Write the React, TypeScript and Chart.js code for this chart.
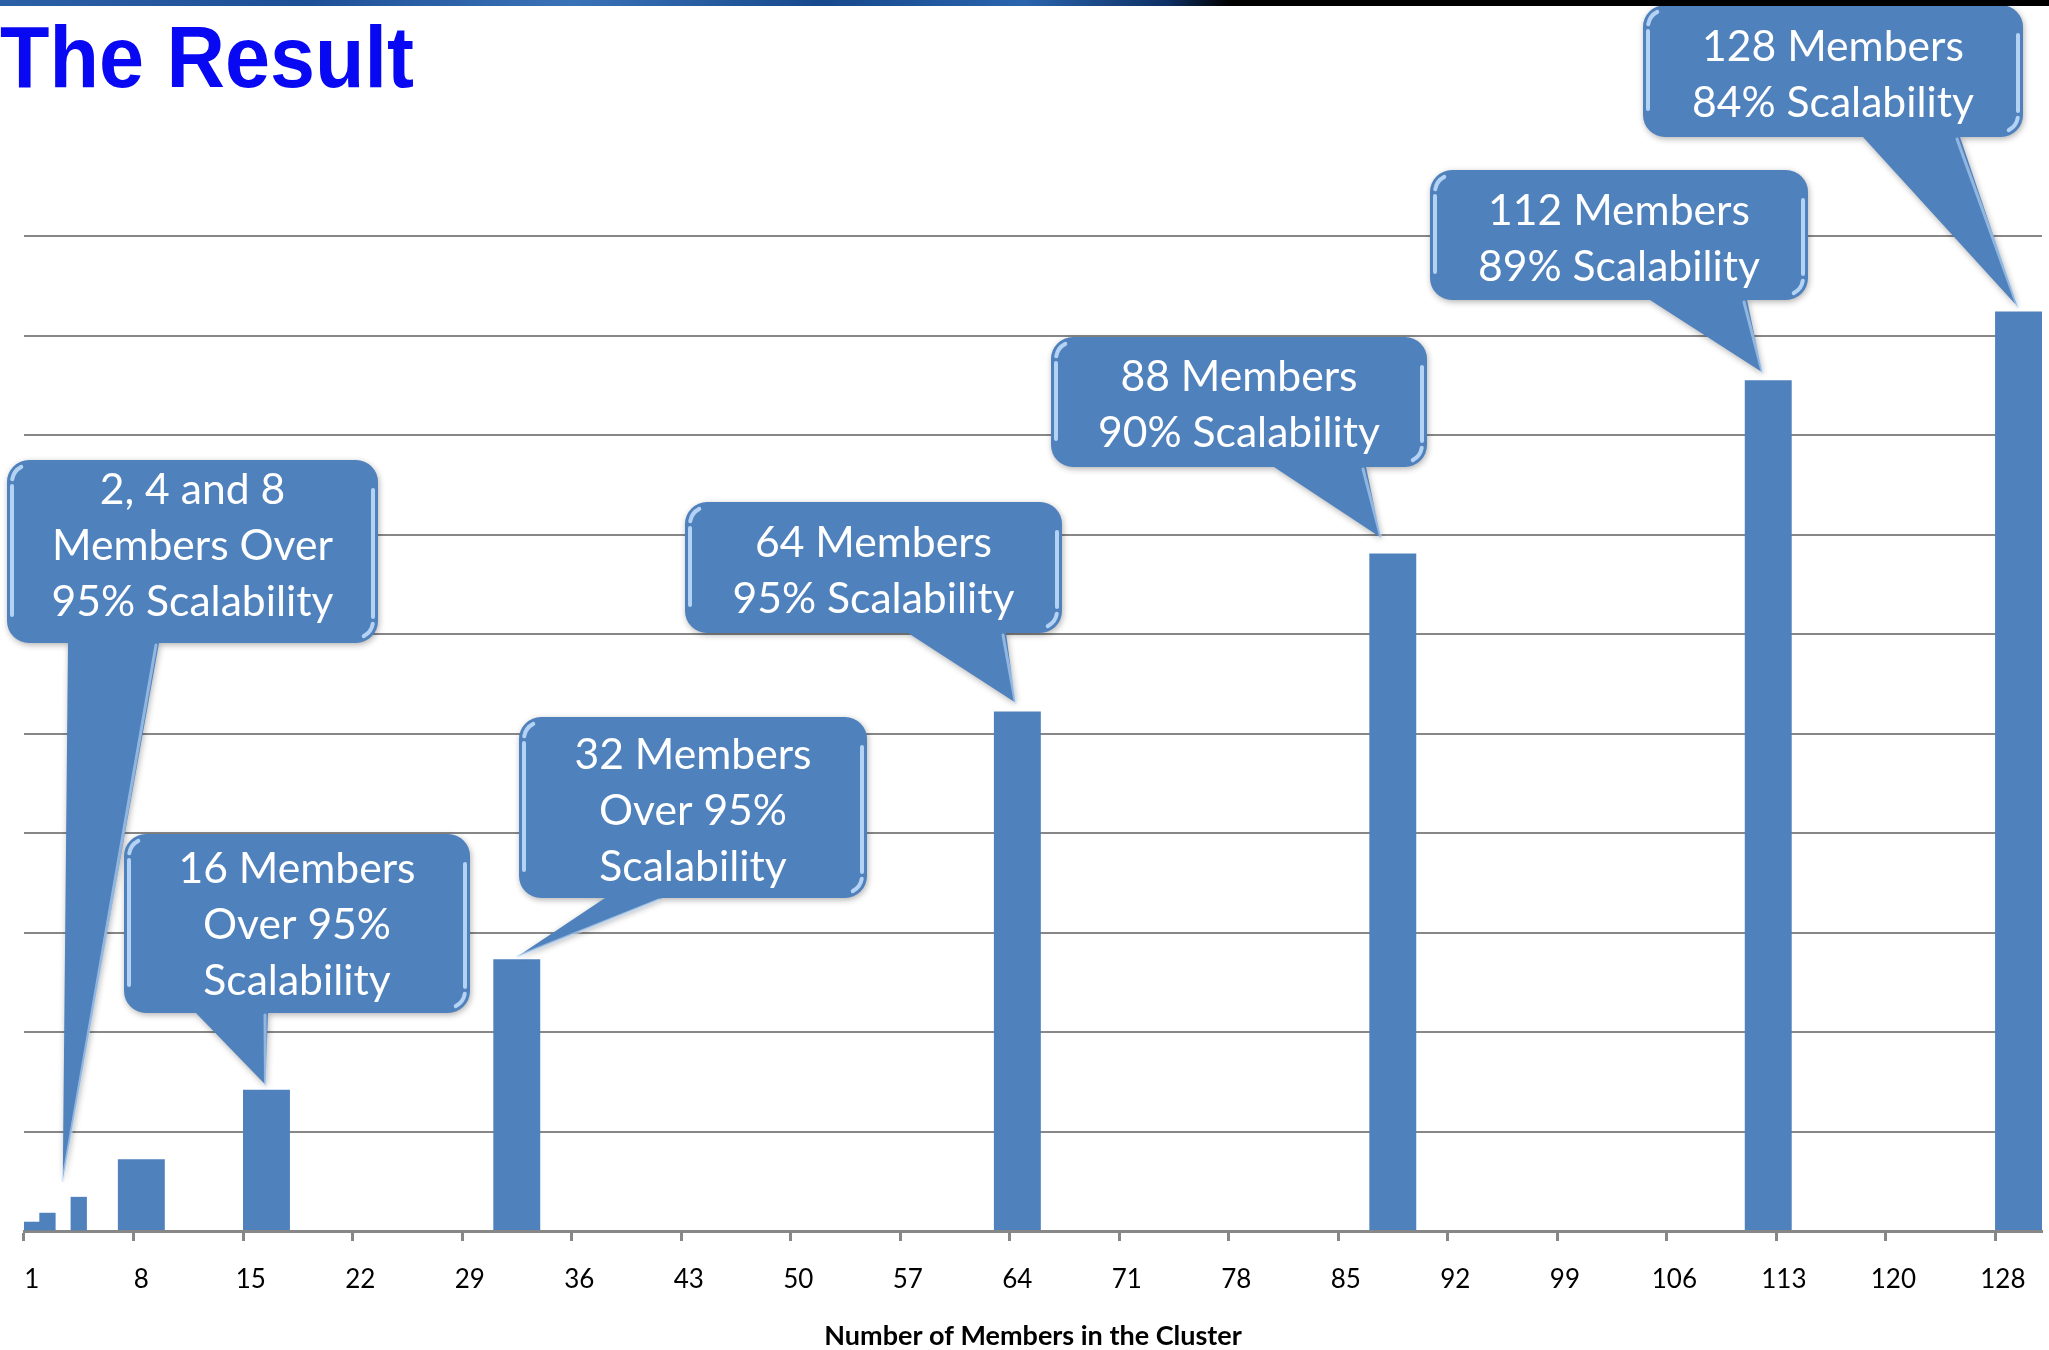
import React, { useEffect, useRef } from 'react';
import { Chart, registerables } from 'chart.js';

Chart.register(...registerables);

// ---------- data ----------
const pageTitle = 'The Result';
const xAxisTitle = 'Number of Members in the Cluster';
const memberCounts = [1, 2, 4, 8, 16, 32, 64, 88, 112, 128];
const relativeThroughput = [0.09, 0.18, 0.34, 0.72, 1.42, 2.73, 5.22, 6.81, 8.55, 9.24];
const slotLabels = Array.from({ length: 129 }, (_, i) => String(i + 1));
const xTickLabels = ['1', '8', '15', '22', '29', '36', '43', '50', '57', '64', '71', '78', '85', '92', '99', '106', '113', '120', '128'];
const tickEvery = 7;
const yMax = 10;

const calloutTargets = [4, 16, 32, 64, 88, 112, 128];
const calloutTexts = [
  ['2, 4 and 8', 'Members Over', '95% Scalability'],
  ['16 Members', 'Over 95%', 'Scalability'],
  ['32 Members', 'Over 95%', 'Scalability'],
  ['64 Members', '95% Scalability'],
  ['88 Members', '90% Scalability'],
  ['112 Members', '89% Scalability'],
  ['128 Members', '84% Scalability'],
];

// ---------- layout / style (not data) ----------
const W = 2049;
const H = 1350;
const BAR = '#4F81BD';
const GRID = '#878787';
const calloutLayout = [
  { box: [7, 460, 378, 643], base: [68, 159], dx: -16, dy: -17, ty: -5 },
  { box: [124, 834, 470, 1013], base: [196, 268], dx: -1, dy: -5, ty: 2 },
  { box: [519, 717, 867, 898], base: [605, 662], dx: 1, dy: -3, ty: 4 },
  { box: [685, 502, 1062, 633], base: [908, 1006], dx: -2, dy: -9, ty: 4 },
  { box: [1051, 337, 1427, 467], base: [1274, 1366], dx: -12, dy: -16, ty: 3 },
  { box: [1430, 170, 1808, 300], base: [1650, 1747], dx: -6, dy: -8, ty: 4 },
  { box: [1643, 5, 2023, 137], base: [1863, 1960], dx: -1, dy: -5, ty: 4 },
];

function drawCallout(ctx: CanvasRenderingContext2D, lines: string[], lay: any, tipX: number, tipY: number) {
  const [x1, y1, x2, y2] = lay.box;
  const r = 22;
  ctx.save();
  ctx.beginPath();
  ctx.moveTo(x1 + r, y1);
  ctx.lineTo(x2 - r, y1);
  ctx.arcTo(x2, y1, x2, y1 + r, r);
  ctx.lineTo(x2, y2 - r);
  ctx.arcTo(x2, y2, x2 - r, y2, r);
  ctx.lineTo(lay.base[1], y2);
  ctx.lineTo(tipX, tipY);
  ctx.lineTo(lay.base[0], y2);
  ctx.lineTo(x1 + r, y2);
  ctx.arcTo(x1, y2, x1, y2 - r, r);
  ctx.lineTo(x1, y1 + r);
  ctx.arcTo(x1, y1, x1 + r, y1, r);
  ctx.closePath();
  ctx.shadowColor = 'rgba(0,0,0,0.30)';
  ctx.shadowBlur = 6;
  ctx.shadowOffsetX = 1;
  ctx.shadowOffsetY = 2;
  ctx.fillStyle = BAR;
  ctx.fill();
  ctx.shadowColor = 'rgba(0,0,0,0)';

  // bevel highlights
  ctx.lineCap = 'round';
  ctx.strokeStyle = 'rgba(190,218,250,0.9)';
  ctx.lineWidth = 4;
  ctx.beginPath();
  ctx.moveTo(x1 + 5, y1 + r + 4);
  ctx.lineTo(x1 + 5, y2 - r - 6);
  ctx.stroke();
  ctx.beginPath();
  ctx.arc(x1 + r, y1 + r, r - 5, Math.PI * 1.05, Math.PI * 1.35);
  ctx.stroke();
  ctx.beginPath();
  ctx.moveTo(x2 - 5, y1 + r + 8);
  ctx.lineTo(x2 - 5, y2 - r - 4);
  ctx.stroke();
  ctx.beginPath();
  ctx.arc(x2 - r, y2 - r, r - 5, Math.PI * 0.05, Math.PI * 0.35);
  ctx.stroke();
  ctx.strokeStyle = 'rgba(200,225,252,0.55)';
  ctx.lineWidth = 3;
  ctx.beginPath();
  ctx.moveTo(lay.base[1] - 3, y2 + 2);
  ctx.lineTo(tipX, tipY);
  ctx.stroke();

  // text
  ctx.fillStyle = '#ffffff';
  ctx.font = '44px Lato';
  const ref = ctx.measureText('95% Scalability').width;
  const size = (44 * 282) / ref;
  ctx.font = `${size}px Lato`;
  ctx.textAlign = 'center';
  ctx.textBaseline = 'middle';
  const cx = (x1 + x2) / 2;
  const cy = (y1 + y2) / 2 + lay.ty;
  const lh = 56;
  lines.forEach((t, i) => {
    ctx.fillText(t, cx, cy + (i - (lines.length - 1) / 2) * lh);
  });
  ctx.restore();
}

const calloutPlugin = {
  id: 'callouts',
  afterDraw(chart: any) {
    const ctx = chart.ctx as CanvasRenderingContext2D;
    calloutTargets.forEach((m, k) => {
      const dsIndex = m >= 8 ? 1 : 0;
      const el = chart.getDatasetMeta(dsIndex).data[m - 1];
      if (!el) return;
      const lay = calloutLayout[k];
      drawCallout(ctx, calloutTexts[k], lay, el.x + lay.dx, el.y + lay.dy);
    });
  },
};

export default function App() {
  const ref = useRef<HTMLCanvasElement | null>(null);

  useEffect(() => {
    const canvas = ref.current;
    if (!canvas) return;
    const narrow: (number | null)[] = slotLabels.map(() => null);
    const wide: (number | null)[] = slotLabels.map(() => null);
    memberCounts.forEach((m, i) => {
      if (m >= 8) wide[m - 1] = relativeThroughput[i];
      else narrow[m - 1] = relativeThroughput[i];
    });

    const chart = new Chart(canvas, {
      type: 'bar',
      data: {
        labels: slotLabels,
        datasets: [
          { data: narrow, backgroundColor: BAR, borderWidth: 0, barPercentage: 1, categoryPercentage: 1, grouped: false } as any,
          { data: wide, backgroundColor: BAR, borderWidth: 0, barPercentage: 3, categoryPercentage: 1, grouped: false } as any,
        ],
      },
      options: {
        animation: false,
        responsive: false,
        maintainAspectRatio: false,
        devicePixelRatio: 1,
        layout: { padding: { left: 24, right: 7, top: 236, bottom: 0 } },
        plugins: {
          legend: { display: false },
          tooltip: { enabled: false },
          title: { display: false },
        },
        scales: {
          x: {
            type: 'category',
            offset: true,
            grid: {
              display: true,
              drawOnChartArea: false,
              drawTicks: true,
              tickLength: 10,
              offset: true,
              color: (c: any) => (c.index % tickEvery === 0 ? GRID : 'rgba(0,0,0,0)'),
              tickColor: (c: any) => (c.index % tickEvery === 0 ? GRID : 'rgba(0,0,0,0)'),
              tickWidth: 3,
            },
            border: { display: true, color: GRID, width: 3 },
            ticks: {
              autoSkip: false,
              maxRotation: 0,
              minRotation: 0,
              color: '#000',
              padding: 23,
              font: { family: 'Lato', size: 26 },
              callback: (_v: any, i: number) => (i % tickEvery === 0 ? xTickLabels[i / tickEvery] ?? '' : ''),
            },
            title: {
              display: true,
              text: xAxisTitle,
              color: '#000',
              font: { family: 'Lato', size: 27, weight: 'bold' },
              padding: { top: 0, bottom: -2 },
            },
            afterFit: (s: any) => {
              s.height = H - 1231;
              s.paddingLeft = 0;
              s.paddingRight = 0;
            },
          } as any,
          y: {
            min: 0,
            max: yMax,
            ticks: { display: false, stepSize: 1 },
            grid: { color: GRID, lineWidth: 2, drawTicks: false },
            border: { display: false },
            afterFit: (s: any) => {
              s.width = 0;
            },
          } as any,
        },
      },
      plugins: [calloutPlugin],
    });
    return () => chart.destroy();
  }, []);

  return (
    <div style={{ position: 'absolute', left: 0, top: 0, width: W, height: H, overflow: 'hidden', background: '#fff' }}>
      <canvas ref={ref} width={W} height={H} style={{ position: 'absolute', left: 0, top: 0, width: W, height: H }} />
      <div
        style={{
          position: 'absolute',
          left: 0,
          top: 0,
          width: W,
          height: 6,
          background:
            'linear-gradient(90deg, #2b5fa6 0%, #1d4f96 15%, #3a72b8 28%, #16488c 40%, #2a64ad 50%, #0d2f63 57%, #000 60%, #000 100%)',
        }}
      />
      <div
        style={{
          position: 'absolute',
          left: 0,
          top: 13,
          fontFamily: '"Liberation Sans", Arial, sans-serif',
          fontWeight: 'bold',
          fontSize: 88,
          lineHeight: '88px',
          color: '#0808F2',
          whiteSpace: 'nowrap',
          transform: 'scaleX(0.92)',
          transformOrigin: 'left top',
        }}
      >
        {pageTitle}
      </div>
    </div>
  );
}
